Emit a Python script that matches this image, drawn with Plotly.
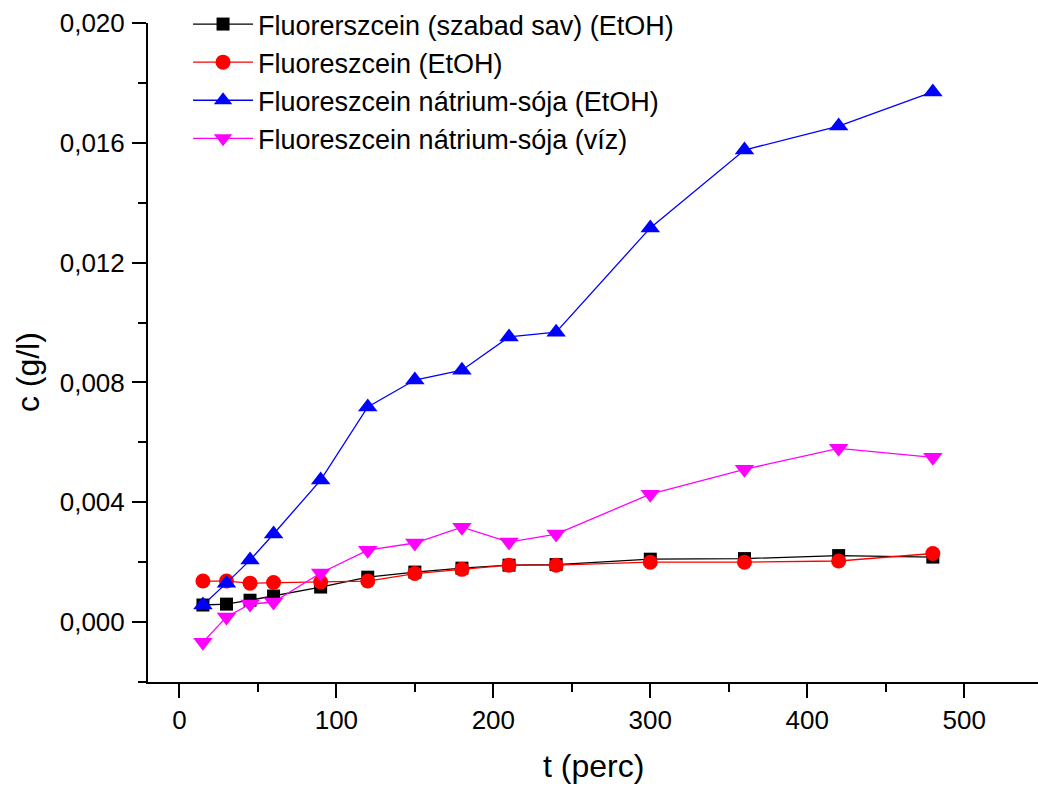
import plotly.graph_objects as go

# Sampling times (minutes)
t_perc = [15, 30, 45, 60, 90, 120, 150, 180, 210, 240, 300, 360, 420, 480]

# Concentrations (g/l)
szabad_sav_etoh = [0.00057, 0.00060, 0.00073, 0.00087, 0.00117, 0.00150, 0.00167,
                   0.00180, 0.00190, 0.00192, 0.00210, 0.00212, 0.00222, 0.00217]
fluoreszcein_etoh = [0.00137, 0.00137, 0.00130, 0.00132, 0.00134, 0.00137, 0.00162,
                     0.00176, 0.00190, 0.00190, 0.00200, 0.00200, 0.00204, 0.00229]
natrium_etoh = [0.00057, 0.00130, 0.00207, 0.00294, 0.00474, 0.00718, 0.00808,
                0.00841, 0.00952, 0.00968, 0.01316, 0.01576, 0.01656, 0.01770]
natrium_viz = [-0.00067, 0.00017, 0.00060, 0.00067, 0.00164, 0.00240, 0.00264,
               0.00317, 0.00267, 0.00294, 0.00427, 0.00510, 0.00580, 0.00550]

series_names = [
    "Fluorerszcein (szabad sav) (EtOH)",
    "Fluoreszcein (EtOH)",
    "Fluoreszcein nátrium-sója (EtOH)",
    "Fluoreszcein nátrium-sója (víz)",
]

x_tickvals = [0, 100, 200, 300, 400, 500]
y_tickvals = [0.000, 0.004, 0.008, 0.012, 0.016, 0.020]

FONT = "Liberation Sans, Arial, sans-serif"

styles = [
    dict(color="#000000", symbol="square", size=13),
    dict(color="#ff0000", symbol="circle", size=15),
    dict(color="#0000ff", symbol="triangle-up", size=17),
    dict(color="#ff00ff", symbol="triangle-down", size=17),
]

fig = go.Figure()
for name, ys, st in zip(series_names,
                        [szabad_sav_etoh, fluoreszcein_etoh, natrium_etoh, natrium_viz],
                        styles):
    fig.add_trace(go.Scatter(
        x=t_perc, y=ys, name=name, mode="lines+markers",
        line=dict(color=st["color"], width=1.3),
        marker=dict(color=st["color"], symbol=st["symbol"], size=st["size"],
                    line=dict(width=0)),
    ))

axis_common = dict(
    showline=True, linecolor="black", linewidth=2,
    showgrid=False, zeroline=False,
    ticks="outside", tickcolor="black", tickwidth=2, ticklen=14,
    tickfont=dict(family=FONT, size=26, color="black"),
    mirror=False,
)

fig.update_xaxes(
    range=[-20, 547], tickvals=x_tickvals,
    minor=dict(dtick=50, tick0=0, ticks="outside", ticklen=8, tickwidth=2,
               tickcolor="black", showgrid=False),
    **axis_common,
)
fig.update_yaxes(
    range=[-0.002, 0.020], tickvals=y_tickvals, tickformat=".3f",
    minor=dict(dtick=0.002, tick0=0, ticks="outside", ticklen=8, tickwidth=2,
               tickcolor="black", showgrid=False),
    ticklabelstandoff=2,
    **axis_common,
)

fig.update_layout(
    width=1038, height=787,
    margin=dict(l=148, r=0, t=23, b=105),
    paper_bgcolor="white", plot_bgcolor="white",
    separators=", ",
    showlegend=True,
    legend=dict(
        x=0.045, y=1.035, xanchor="left", yanchor="top",
        font=dict(family=FONT, size=27, color="black"),
        bgcolor="rgba(255,255,255,0)", borderwidth=0,
        tracegroupgap=0, itemwidth=60,
    ),
    font=dict(family=FONT, color="black"),
    annotations=[
        dict(text="t (perc)", xref="paper", yref="paper", x=0.5, y=-0.128,
             xanchor="center", yanchor="middle", showarrow=False,
             font=dict(family=FONT, size=32, color="black")),
        dict(text="c (g/l)", xref="paper", yref="paper", x=-0.135, y=0.47,
             xanchor="center", yanchor="middle", showarrow=False, textangle=-90,
             font=dict(family=FONT, size=32, color="black")),
    ],
)

fig.write_html("out.html")
